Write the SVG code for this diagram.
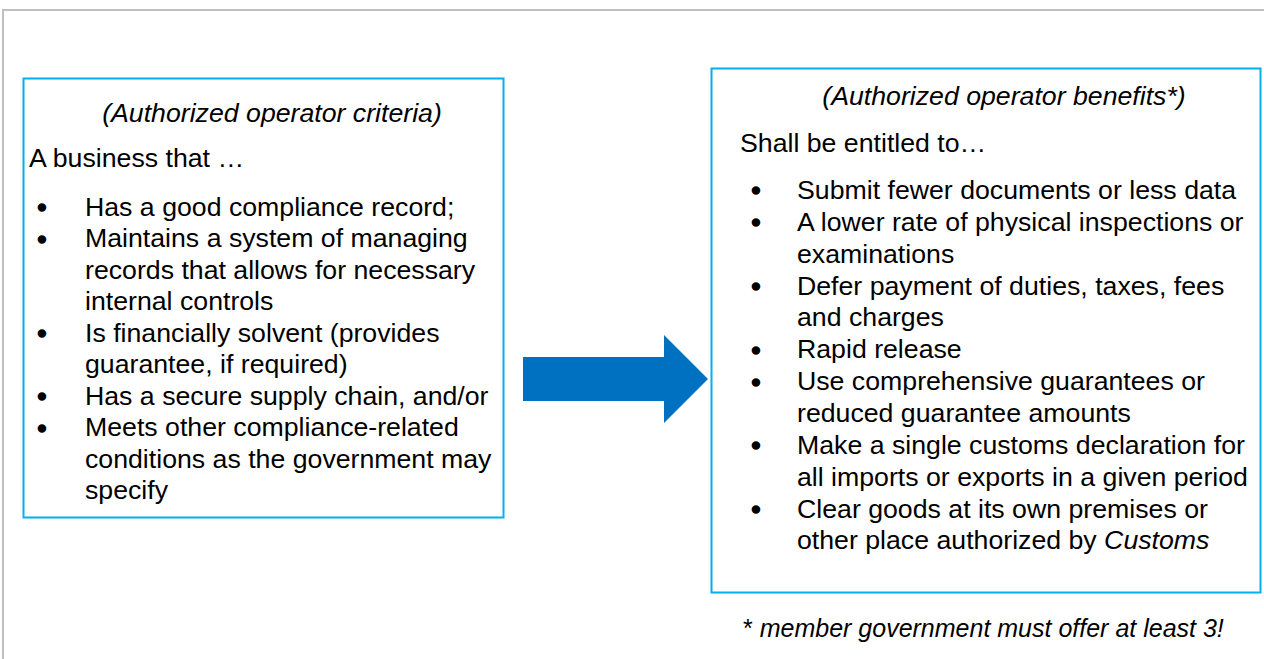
<svg xmlns="http://www.w3.org/2000/svg" width="1264" height="659" viewBox="0 0 1264 659">
<style>
.frame{fill:none;stroke:#bfbfbf;stroke-width:2}
.box{fill:#fff;stroke:#00b0f0;stroke-width:2}
.t{font-family:"Liberation Sans",Arial,sans-serif;font-size:26.7px;fill:#000}
.i{font-style:italic}
.b{text-anchor:middle;stroke:#000;stroke-width:1.3}
.fn{font-size:25px}
</style>
<rect width="1264" height="659" fill="#fff"/>
<path class="frame" d="M3,660 V10 H1264"/>
<g id="criteria">
<rect class="box" x="23.5" y="78.5" width="480" height="439"/>
<text class="t i" x="272" y="122" text-anchor="middle">(Authorized operator criteria)</text>
<text class="t" x="29" y="167">A business that …</text>
<text class="t b" x="42" y="216">•</text>
<text class="t" x="85" y="215.5">Has a good compliance record;</text>
<text class="t b" x="42" y="247.5">•</text>
<text class="t" x="85" y="247">Maintains a system of managing</text>
<text class="t" x="85" y="278.5">records that allows for necessary</text>
<text class="t" x="85" y="310">internal controls</text>
<text class="t b" x="42" y="342">•</text>
<text class="t" x="85" y="341.5">Is financially solvent (provides</text>
<text class="t" x="85" y="373">guarantee, if required)</text>
<text class="t b" x="42" y="405">•</text>
<text class="t" x="85" y="404.5">Has a secure supply chain, and/or</text>
<text class="t b" x="42" y="436.5">•</text>
<text class="t" x="85" y="436">Meets other compliance-related</text>
<text class="t" x="85" y="467.5">conditions as the government may</text>
<text class="t" x="85" y="499">specify</text>
</g>
<g id="connectors">
<polygon points="523,357 664,357 664,335 708,379 664,423 664,401 523,401" fill="#0070c0"/>
</g>
<g id="benefits">
<rect class="box" x="711.5" y="68.5" width="549" height="524"/>
<text class="t i" x="1004" y="105" text-anchor="middle">(Authorized operator benefits*)</text>
<text class="t" x="740" y="152">Shall be entitled to…</text>
<text class="t b" x="756" y="199">•</text>
<text class="t" x="797" y="198.5">Submit fewer documents or less data</text>
<text class="t b" x="756" y="231">•</text>
<text class="t" x="797" y="230.5">A lower rate of physical inspections or</text>
<text class="t" x="797" y="262.5">examinations</text>
<text class="t b" x="756" y="295">•</text>
<text class="t" x="797" y="294.5">Defer payment of duties, taxes, fees</text>
<text class="t" x="797" y="326">and charges</text>
<text class="t b" x="756" y="358.5">•</text>
<text class="t" x="797" y="358">Rapid release</text>
<text class="t b" x="756" y="390.5">•</text>
<text class="t" x="797" y="390">Use comprehensive guarantees or</text>
<text class="t" x="797" y="421.5">reduced guarantee amounts</text>
<text class="t b" x="756" y="454">•</text>
<text class="t" x="797" y="453.5">Make a single customs declaration for</text>
<text class="t" x="797" y="485.5">all imports or exports in a given period</text>
<text class="t b" x="756" y="518">•</text>
<text class="t" x="797" y="517.5">Clear goods at its own premises or</text>
<text class="t" x="797" y="549">other place authorized by <tspan class="i">Customs</tspan></text>
</g>
<g id="footnote">
<text class="t fn" x="743" y="637">* <tspan class="i">member government must offer at least 3!</tspan></text>
</g>
</svg>
